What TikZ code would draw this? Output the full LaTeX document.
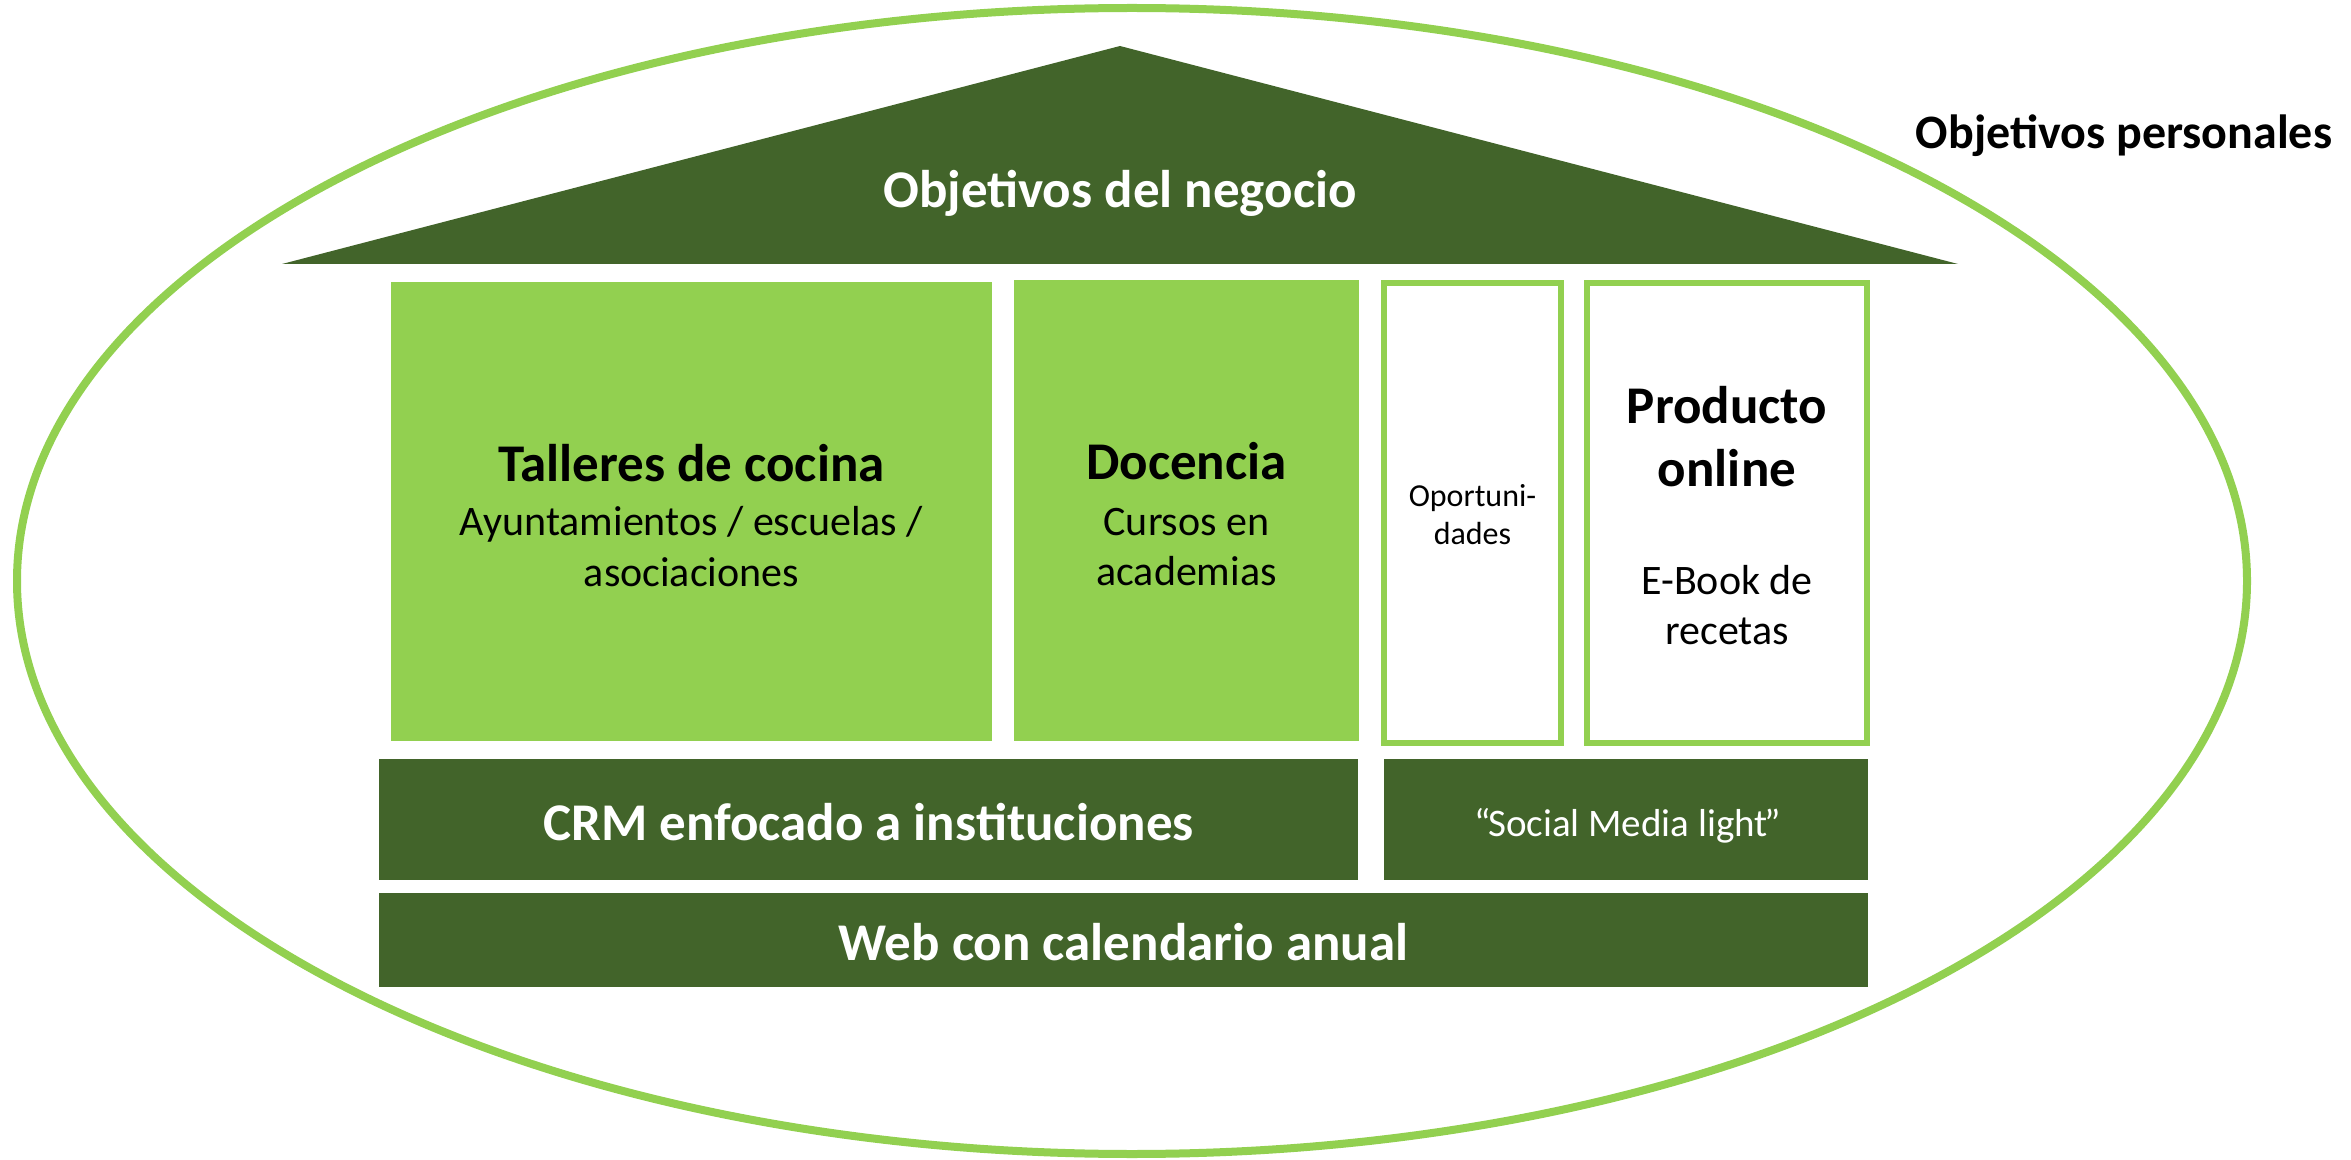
\documentclass[tikz,border=0pt]{standalone}
\usepackage{fontspec}
\setmainfont{Carlito}
\definecolor{lgreen}{HTML}{92D050}
\definecolor{dgreen}{RGB}{66,100,42}
\tikzset{
  bigb/.style={font=\bfseries\fontsize{26.5}{32}\selectfont, inner sep=0pt, anchor=base},
  reg/.style={font=\fontsize{21}{25}\selectfont, inner sep=0pt, anchor=base},
  small/.style={font=\fontsize{16}{19}\selectfont, inner sep=0pt, anchor=base},
  whitetxt/.style={text=white},
  lightbox/.style={fill=lgreen},
  darkbox/.style={fill=dgreen},
  outbox/.style={draw=lgreen, line width=3pt, fill=white},
}
\begin{document}
\begin{tikzpicture}[x=0.5pt, y=-0.5pt]
\useasboundingbox (0,0) rectangle (2351,1160);
% outer ellipse
\draw[lgreen, line width=4pt] (1132,581) ellipse [x radius=1115, y radius=573];
\node[font=\bfseries\fontsize{24}{29}\selectfont, inner sep=0pt, anchor=base] (perso) at (2124,149) {Objetivos personales};
% roof
\fill[dgreen] (282,264) -- (1120,46) -- (1958,264) -- cycle;
\node[bigb, whitetxt] (negocio) at (1120,208) {Objetivos del negocio};
% pillars
\fill[lightbox] (391,282) rectangle (992,741);
\fill[lightbox] (1014,280) rectangle (1359,741);
\draw[outbox] (1384,283) rectangle (1561,743);
\draw[outbox] (1587,283) rectangle (1867,743);
\node[bigb] (tall) at (691.5,481) {Talleres de cocina};
\node[reg] (tall2) at (691.5,535) {Ayuntamientos / escuelas /};
\node[reg] (tall3) at (691.5,586) {asociaciones};
\node[bigb] (doc) at (1186.5,480) {Docencia};
\node[reg] (doc2) at (1186.5,535) {Cursos en};
\node[reg] (doc3) at (1186.5,585) {academias};
\node[small] (opo) at (1472.5,507) {Oportuni-};
\node[small] (opo2) at (1472.5,545) {dades};
\node[bigb] (prod) at (1727,424) {Producto};
\node[bigb] (prod2) at (1727,487) {online};
\node[reg] (prod3) at (1727,594) {E-Book de};
\node[reg] (prod4) at (1727,644) {recetas};
% foundations
\fill[darkbox] (379,759) rectangle (1358,880);
\fill[darkbox] (1384,759) rectangle (1868,880);
\fill[darkbox] (379,893) rectangle (1868,987);
\node[bigb, whitetxt] (crm) at (868.5,840) {CRM enfocado a instituciones};
\node[font=\fontsize{19.5}{24}\selectfont, inner sep=0pt, anchor=base, whitetxt] (social) at (1628,836) {“\kern-1.5ptSocial Media light\kern-1.5pt”};
\node[bigb, whitetxt] (web) at (1123.5,960) {Web con calendario anual};
\end{tikzpicture}
\end{document}
